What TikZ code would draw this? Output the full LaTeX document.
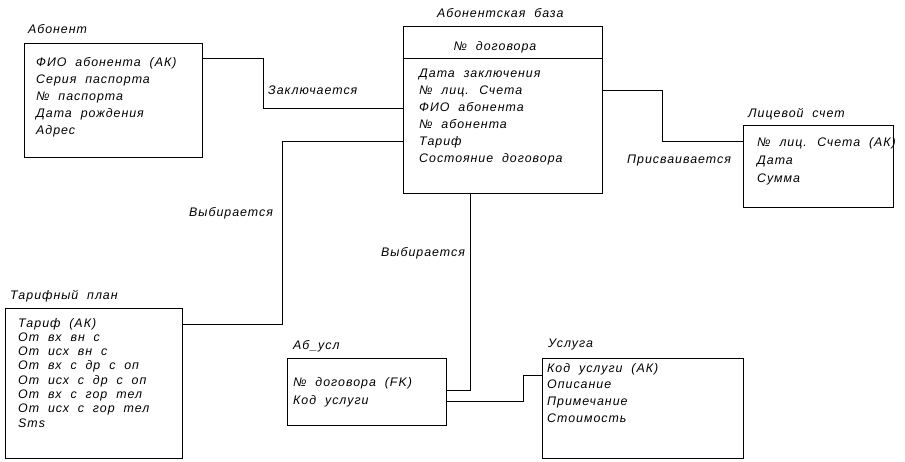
\documentclass[tikz,border=0pt]{standalone}
\usepackage{fontspec}
\setmainfont{Liberation Sans}[LetterSpace=8,WordSpace=2.0]
\begin{document}
\begin{tikzpicture}[x=1pt,y=-1pt,
  box/.style={draw,line width=0.75pt,inner sep=0pt},
  txt/.style={anchor=west,inner sep=0pt,text height=9pt,text depth=3pt,font=\fontsize{12.4}{14}\selectfont\itshape},
  conn/.style={line width=0.75pt}]
\useasboundingbox (0,0) rectangle (905,461);
% boxes
\node[box,minimum width=178pt,minimum height=114pt] (ab) at (113,100) {};
\node[box,minimum width=199pt,minimum height=167pt] (base) at (502.5,109.5) {};
\node[box,minimum width=150pt,minimum height=82pt] (ls) at (818,166) {};
\node[box,minimum width=177pt,minimum height=150pt] (tp) at (93.5,383) {};
\node[box,minimum width=159pt,minimum height=67pt] (abu) at (366.5,391.5) {};
\node[box,minimum width=201pt,minimum height=100pt] (usl) at (642.5,408) {};
\draw[conn] ([yshift=-33pt]base.north west) -- ([yshift=-33pt]base.north east);
% titles
\node[txt] (t-ab) at (28,30) {Абонент};
\node[txt] (t-base) at (437,14) {Абонентская база};
\node[txt] (t-ls) at (748,114) {Лицевой счет};
\node[txt] (t-tp) at (10,296) {Тарифный план};
\node[txt] (t-abu) at (293,346) {Аб\_усл};
\node[txt] (t-usl) at (548,344) {Услуга};
\node[txt,anchor=center] (key-base) at (495,47) {№ договора};
% fields
\foreach \t [count=\i] in {ФИО абонента (АК),Серия паспорта,№ паспорта,Дата рождения,Адрес}
  \node[txt] (f-ab-\i) at (36,63+17*\i-17) {\t};
\foreach \t [count=\i] in {Дата заключения,№ лиц. Счета,ФИО абонента,№ абонента,Тариф,Состояние договора}
  \node[txt] (f-base-\i) at (419,74+17*\i-17) {\t};
\foreach \t [count=\i] in {№ лиц. Счета (АК),Дата,Сумма}
  \node[txt] (f-ls-\i) at (757,143+18*\i-18) {\t};
\foreach \t [count=\i] in {Тариф (АК),От вх вн с,От исх вн с,От вх с др с оп,От исх с др с оп,От вх с гор тел,От исх с гор тел,Sms}
  \node[txt] (f-tp-\i) at (18,324+14.3*\i-14.3) {\t};
\foreach \t [count=\i] in {№ договора (FK),Код услуги}
  \node[txt] (f-abu-\i) at (293,383+18*\i-18) {\t};
\foreach \t [count=\i] in {Код услуги (АК),Описание,Примечание,Стоимость}
  \node[txt] (f-usl-\i) at (547,369+16.7*\i-16.7) {\t};
% connectors
\draw[conn] ([yshift=-16pt]ab.north east) -- ++(61,0) |- ([yshift=-83pt]base.north west);
\draw[conn] ([yshift=-65pt]base.north east) -- ++(60,0) |- ([yshift=-17pt]ls.north west);
\draw[conn] ([yshift=-17pt]tp.north east) -- ++(100,0) |- ([yshift=-116pt]base.north west);
\draw[conn] ([xshift=68pt]base.south west) |- ([yshift=-33pt]abu.north east);
\draw[conn] ([yshift=-44pt]abu.north east) -- ++(77,0) |- ([yshift=-18pt]usl.north west);
% labels
\node[txt] (l1) at (268,91) {Заключается};
\node[txt] (l2) at (627,160) {Присваивается};
\node[txt] (l3) at (189,213) {Выбирается};
\node[txt] (l4) at (381,253) {Выбирается};
\end{tikzpicture}
\end{document}
